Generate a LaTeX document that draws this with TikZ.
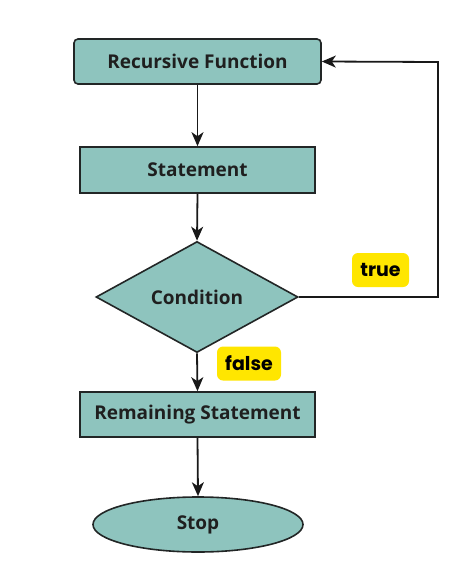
\documentclass[tikz,border=0pt]{standalone}
\usepackage{fontspec}
\setmainfont{Open Sans}
\newfontfamily\labelfont{Poppins}
\usetikzlibrary{shapes.geometric,arrows.meta}
\definecolor{tealfill}{HTML}{8EC4BE}
\definecolor{edgegray}{HTML}{222626}
\definecolor{tagyellow}{HTML}{FFE600}
\tikzset{
  boxstyle/.style={draw=edgegray,line width=1.6pt,fill=tealfill,font=\bfseries\fontsize{19}{22}\selectfont,text=black!88,inner sep=0pt},
  conn/.style={line width=1.8pt,draw=black!90,-{Stealth[length=14pt,width=12pt,inset=4pt]}},
  tag/.style={fill=tagyellow,rounded corners=6pt,font=\labelfont\bfseries\fontsize{19}{22}\selectfont,text=black,minimum height=34pt,inner xsep=5pt}
}
\begin{document}
\begin{tikzpicture}[x=1pt,y=-1pt]
\useasboundingbox[fill=white] (0,0) rectangle (474,581);
\node[boxstyle,rounded corners=4pt,minimum width=247pt,minimum height=45pt] (rf) at (197.5,61.5) {Recursive Function};
\node[boxstyle,minimum width=235pt,minimum height=46pt] (st) at (197.5,170) {Statement};
\node[boxstyle,diamond,aspect=1.83,minimum width=202pt,minimum height=111pt] (cd) at (197,297) {Condition};
\node[boxstyle,minimum width=235pt,minimum height=45pt] (rs) at (197.5,414.5) {Remaining Statement};
\node[boxstyle,ellipse,minimum width=210pt,minimum height=55pt] (sp) at (198,524.5) {Stop};
\node[tag,minimum width=57pt] (tt) at (380.5,270) {true};
\node[tag,minimum width=64pt] (ff) at (249,363.5) {false};
\coordinate (c1) at (438,297);
\coordinate (c2) at (438,62);
\draw[conn] (rf.south) -- (st.north);
\draw[conn] (st.south) -- (cd.north);
\draw[conn] (cd.south) -- (rs.north);
\draw[conn] (rs.south) -- (sp.north);
\draw[conn] (cd.east) -- (c1) -- (c2) -- (rf.east);
\end{tikzpicture}
\end{document}
